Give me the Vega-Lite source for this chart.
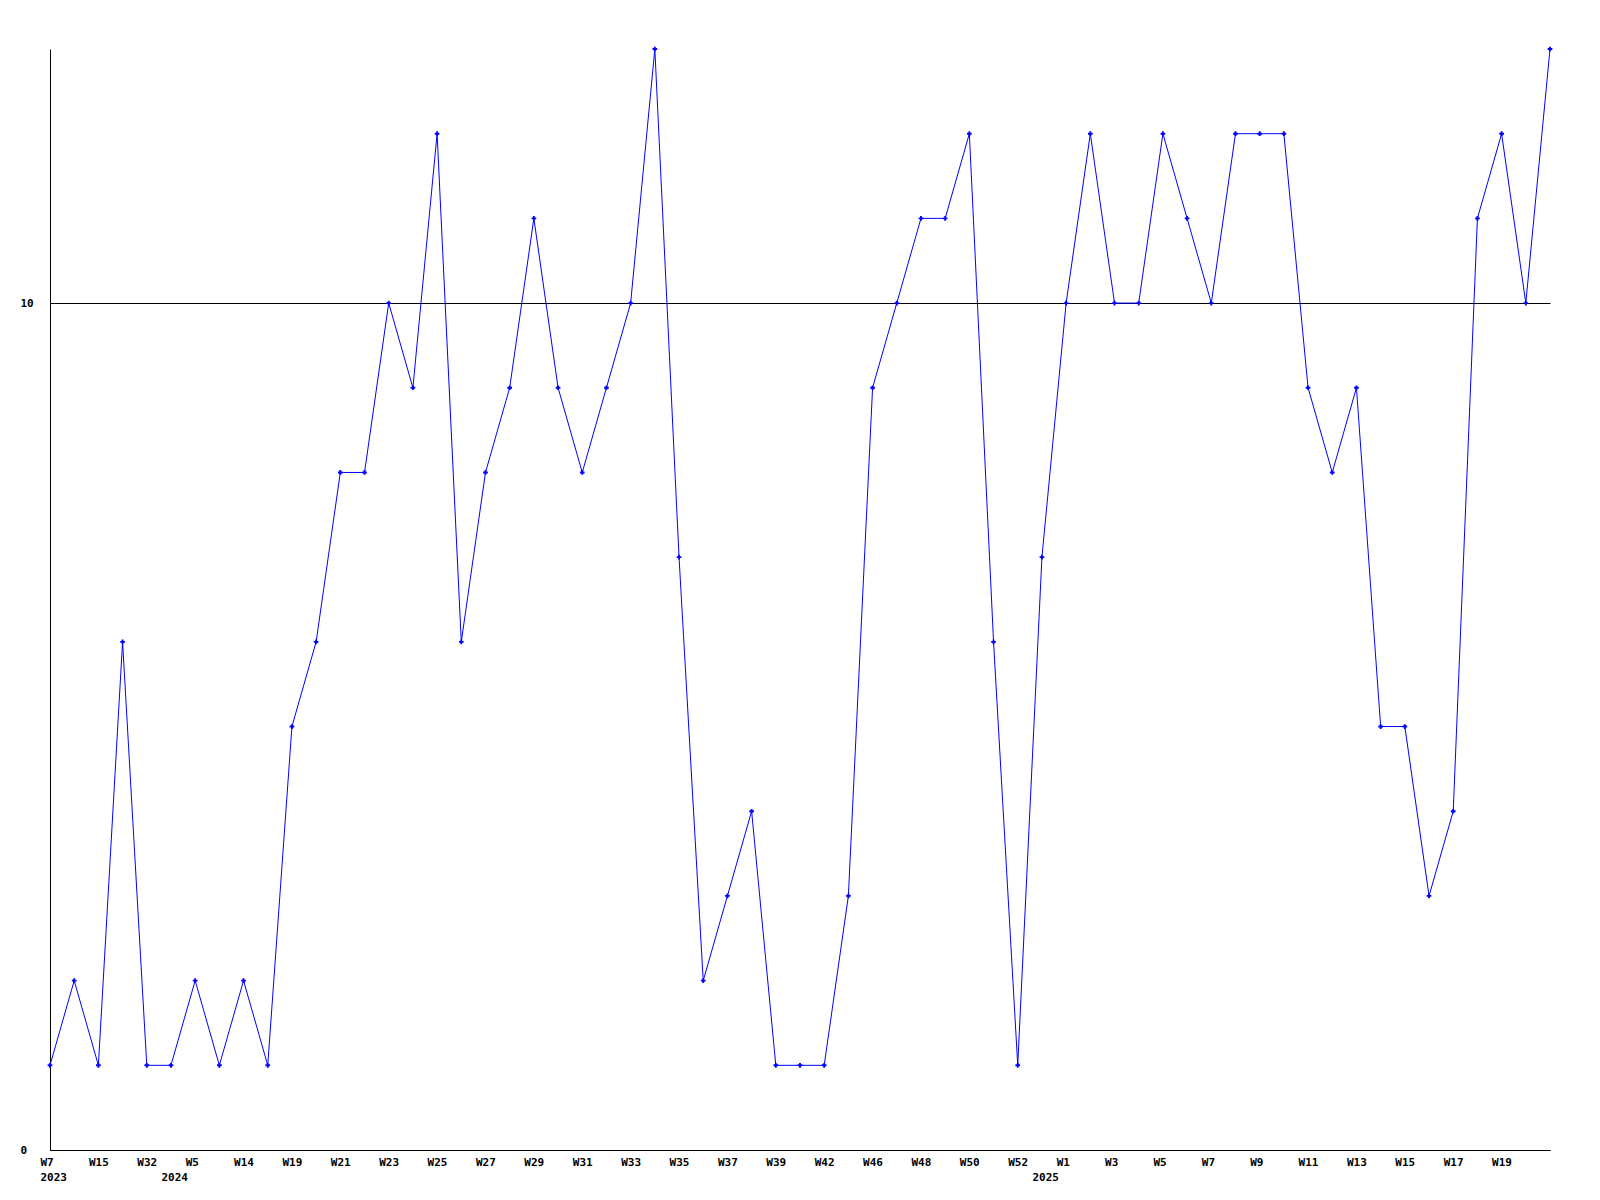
{
  "$schema": "https://vega.github.io/schema/vega-lite/v6.json",
  "width": 1500,
  "height": 1101,
  "autosize": {"type": "none"},
  "padding": {"left": 50, "top": 49, "right": 50, "bottom": 50},
  "background": "white",
  "config": {
    "view": {"stroke": null},
    "font": "DejaVu Sans Mono",
    "axis": {"labelFont": "DejaVu Sans Mono", "labelFontWeight": "bold", "labelFontSize": 11, "labelColor": "black", "titleFontSize": 11}
  },
  "data": {"values": [
    {"week": "2023-W07", "value": 1},
    {"week": "2023-W11", "value": 2},
    {"week": "2023-W15", "value": 1},
    {"week": "2023-W20", "value": 6},
    {"week": "2023-W32", "value": 1},
    {"week": "2024-W00", "value": 1},
    {"week": "2024-W05", "value": 2},
    {"week": "2024-W09", "value": 1},
    {"week": "2024-W14", "value": 2},
    {"week": "2024-W17", "value": 1},
    {"week": "2024-W19", "value": 5},
    {"week": "2024-W20", "value": 6},
    {"week": "2024-W21", "value": 8},
    {"week": "2024-W22", "value": 8},
    {"week": "2024-W23", "value": 10},
    {"week": "2024-W24", "value": 9},
    {"week": "2024-W25", "value": 12},
    {"week": "2024-W26", "value": 6},
    {"week": "2024-W27", "value": 8},
    {"week": "2024-W28", "value": 9},
    {"week": "2024-W29", "value": 11},
    {"week": "2024-W30", "value": 9},
    {"week": "2024-W31", "value": 8},
    {"week": "2024-W32", "value": 9},
    {"week": "2024-W33", "value": 10},
    {"week": "2024-W34", "value": 13},
    {"week": "2024-W35", "value": 7},
    {"week": "2024-W36", "value": 2},
    {"week": "2024-W37", "value": 3},
    {"week": "2024-W38", "value": 4},
    {"week": "2024-W39", "value": 1},
    {"week": "2024-W40", "value": 1},
    {"week": "2024-W42", "value": 1},
    {"week": "2024-W44", "value": 3},
    {"week": "2024-W46", "value": 9},
    {"week": "2024-W47", "value": 10},
    {"week": "2024-W48", "value": 11},
    {"week": "2024-W49", "value": 11},
    {"week": "2024-W50", "value": 12},
    {"week": "2024-W51", "value": 6},
    {"week": "2024-W52", "value": 1},
    {"week": "2025-W00", "value": 7},
    {"week": "2025-W01", "value": 10},
    {"week": "2025-W02", "value": 12},
    {"week": "2025-W03", "value": 10},
    {"week": "2025-W04", "value": 10},
    {"week": "2025-W05", "value": 12},
    {"week": "2025-W06", "value": 11},
    {"week": "2025-W07", "value": 10},
    {"week": "2025-W08", "value": 12},
    {"week": "2025-W09", "value": 12},
    {"week": "2025-W10", "value": 12},
    {"week": "2025-W11", "value": 9},
    {"week": "2025-W12", "value": 8},
    {"week": "2025-W13", "value": 9},
    {"week": "2025-W14", "value": 5},
    {"week": "2025-W15", "value": 5},
    {"week": "2025-W16", "value": 3},
    {"week": "2025-W17", "value": 4},
    {"week": "2025-W18", "value": 11},
    {"week": "2025-W19", "value": 12},
    {"week": "2025-W20", "value": 10},
    {"week": "2025-W21", "value": 13}
  ]},
  "encoding": {
    "y": {
      "field": "value", "type": "quantitative",
      "scale": {"domain": [0, 13], "nice": false, "zero": true},
      "axis": {
        "title": null, "values": [0, 10], "format": "d",
        "grid": true, "gridColor": "black", "gridOpacity": 1, "gridWidth": 1,
        "domain": true, "domainColor": "black", "domainWidth": 1,
        "ticks": false, "tickSize": 0,
        "labelAlign": "left", "labelPadding": 30, "labelBaseline": "middle"
      }
    }
  },
  "layer": [
    {
      "mark": {"type": "line", "color": "#0000ff", "strokeWidth": 1},
      "encoding": {
        "x": {
          "field": "week", "type": "ordinal", "sort": null,
          "scale": {"type": "point", "padding": 0},
          "axis": {
            "title": null, "orient": "bottom",
            "values": ["2023-W07", "2023-W15", "2023-W32", "2024-W05", "2024-W14", "2024-W19", "2024-W21", "2024-W23", "2024-W25", "2024-W27", "2024-W29", "2024-W31", "2024-W33", "2024-W35", "2024-W37", "2024-W39", "2024-W42", "2024-W46", "2024-W48", "2024-W50", "2024-W52", "2025-W01", "2025-W03", "2025-W05", "2025-W07", "2025-W09", "2025-W11", "2025-W13", "2025-W15", "2025-W17", "2025-W19"],
            "labelExpr": "'W' + parseInt(substring(datum.value, 6))",
            "labelAngle": 0, "labelAlign": "left", "labelOffset": -10, "labelBaseline": "top", "labelPadding": 6,
            "labelOverlap": false,
            "ticks": false, "tickSize": 0,
            "domain": true, "domainColor": "black", "domainWidth": 1,
            "grid": false
          }
        }
      }
    },
    {
      "mark": {"type": "point", "shape": "cross", "filled": true, "size": 22, "color": "#0000ff", "opacity": 1},
      "encoding": {
        "x": {
          "field": "week", "type": "ordinal", "sort": null,
          "scale": {"type": "point", "padding": 0},
          "axis": {
            "title": null, "orient": "bottom", "offset": 15,
            "values": ["2023-W07", "2024-W00", "2025-W00"],
            "labelExpr": "substring(datum.value, 0, 4)",
            "labelAngle": 0, "labelAlign": "left", "labelOffset": -10, "labelBaseline": "top", "labelPadding": 6,
            "labelOverlap": false,
            "ticks": false, "tickSize": 0,
            "domain": false, "grid": false
          }
        }
      }
    }
  ],
  "resolve": {"axis": {"x": "independent"}}
}
